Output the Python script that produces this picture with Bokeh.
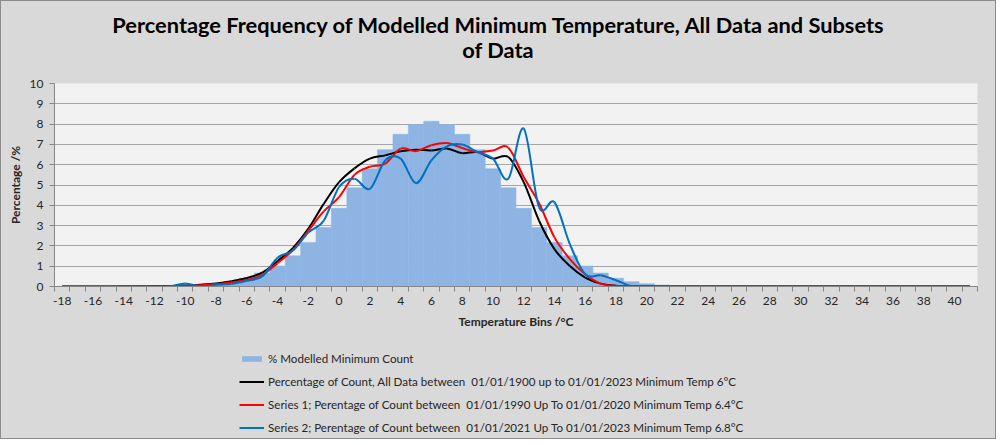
import numpy as np
from bokeh.plotting import figure
from bokeh.models import Range1d, FixedTicker, Legend, LegendItem, Div
from bokeh.layouts import column
from bokeh.embed import file_html
from bokeh.resources import INLINE

# ---------------- data ----------------
temperature_bins = list(range(-18, 42))  # -18 .. 41

modelled_pct = [0, 0, 0, 0, 0, 0.01, 0.01, 0.02, 0.04, 0.07,
                0.14, 0.24, 0.41, 0.66, 1.01, 1.51, 2.17, 2.91, 3.85, 4.86,
                5.8, 6.74, 7.5, 7.98, 8.14, 7.98, 7.5, 6.74, 5.8, 4.86,
                3.85, 2.91, 2.17, 1.51, 1.01, 0.66, 0.41, 0.24, 0.14, 0.07,
                0.04, 0.02, 0.01, 0.01, 0, 0, 0, 0, 0, 0,
                0, 0, 0, 0, 0, 0, 0, 0, 0, 0]

all_data_pct = [0, 0, 0, 0, 0.01, 0.01, 0.02, 0.03, 0.05, 0.09,
                0.15, 0.26, 0.42, 0.68, 1.26, 1.9, 2.85, 4.07, 5.14, 5.82,
                6.3, 6.46, 6.66, 6.74, 6.7, 6.8, 6.57, 6.62, 6.3, 6.38,
                5.14, 3.24, 1.84, 1.01, 0.44, 0.14, 0.04, 0.01, 0, 0,
                0, 0, 0, 0, 0, 0, 0, 0, 0, 0,
                0, 0, 0, 0, 0, 0, 0, 0, 0, 0]

series1_pct = [0, 0, 0, 0, 0.01, 0.01, 0.01, 0.02, 0.03, 0.06,
               0.12, 0.2, 0.32, 0.56, 1.15, 1.8, 2.75, 3.7, 4.4, 5.5,
               5.9, 6.05, 6.79, 6.67, 6.96, 7.07, 6.82, 6.62, 6.7, 6.84,
               5.39, 4.1, 2.42, 1.35, 0.6, 0.14, 0.03, 0.02, 0.01, 0.01,
               0.01, 0.01, 0.01, 0.01, 0.01, 0.01, 0.01, 0.01, 0.01, 0.01,
               0.01, 0.01, 0.01, 0.01, 0.01, 0.01, 0.01, 0.01, 0.01, 0.01]

series2_pct = [0, 0, 0, 0, 0, 0, 0, 0, 0.15, 0,
               0.08, 0.12, 0.28, 0.5, 1.42, 1.77, 2.66, 3.24, 4.9, 5.31,
               4.81, 6.21, 6.3, 5.09, 6.21, 6.9, 6.99, 6.62, 6.3, 5.31,
               7.78, 3.9, 4.15, 2.09, 0.6, 0.55, 0.31, 0.02, 0, 0,
               0, 0, 0, 0, 0, 0, 0, 0, 0, 0,
               0, 0, 0, 0, 0, 0, 0, 0, 0, 0]

x_tick_values = list(range(-18, 41, 2))
x_tick_labels = ["-18", "-16", "-14", "-12", "-10", "-8", "-6", "-4", "-2", "0",
                 "2", "4", "6", "8", "10", "12", "14", "16", "18", "20",
                 "22", "24", "26", "28", "30", "32", "34", "36", "38", "40"]
y_tick_values = list(range(0, 11))

title_line1 = "Percentage Frequency of Modelled Minimum Temperature, All Data and Subsets"
title_line2 = "of Data"
legend_labels = ["% Modelled Minimum Count",
                 "Percentage of Count, All Data between  01/01/1900 up to 01/01/2023 Minimum Temp 6°C",
                 "Series 1; Perentage of Count between  01/01/1990 Up To 01/01/2020 Minimum Temp 6.4°C",
                 "Series 2; Perentage of Count between  01/01/2021 Up To 01/01/2023 Minimum Temp 6.8°C"]

FONT = "Lato"
TEXT = "#262626"
GRID = "#a6a6a6"
BG = "#d9d9d9"
BAR_COLOR = "#8db4e2"
LINE_COLORS = ["black", "#ff0000", "#0070c0"]
W = 984


def smooth_segments(xs, ys):
    """Catmull-Rom style bezier control points (Excel 'smoothed line')."""
    n = len(xs)
    out = dict(x0=[], y0=[], x1=[], y1=[], cx0=[], cy0=[], cx1=[], cy1=[])
    for i in range(n - 1):
        xm = xs[i - 1] if i > 0 else xs[i]
        ym = ys[i - 1] if i > 0 else ys[i]
        xp = xs[i + 2] if i + 2 < n else xs[i + 1]
        yp = ys[i + 2] if i + 2 < n else ys[i + 1]
        out["x0"].append(xs[i]); out["y0"].append(ys[i])
        out["x1"].append(xs[i + 1]); out["y1"].append(ys[i + 1])
        out["cx0"].append(xs[i] + (xs[i + 1] - xm) / 6.0)
        out["cy0"].append(ys[i] + (ys[i + 1] - ym) / 6.0)
        out["cx1"].append(xs[i + 1] - (xp - xs[i]) / 6.0)
        out["cy1"].append(ys[i + 1] - (yp - ys[i]) / 6.0)
    return out


# ---------------- title strip ----------------
title_div = Div(
    text=('<div style="width:%dpx;text-align:center;font-family:Lato;font-weight:bold;'
          'font-size:21.8px;line-height:25px;padding-top:6px;color:black;">%s<br>%s</div>'
          % (W, title_line1, title_line2)),
    width=W, height=64, styles={"background-color": BG})

# ---------------- main chart ----------------
p = figure(width=W, height=263, output_backend="svg", toolbar_location=None,
           x_range=Range1d(-18.5, 41.5), y_range=Range1d(0, 10),
           min_border_left=53, min_border_right=8, min_border_top=8, min_border_bottom=52,
           background_fill_color="#f2f2f2", border_fill_color=BG)
p.outline_line_color = None
p.title = None

p.xgrid.visible = False
p.ygrid.ticker = FixedTicker(ticks=y_tick_values)
p.ygrid.grid_line_color = GRID
p.ygrid.grid_line_width = 1.2

p.vbar(x=temperature_bins, top=modelled_pct, width=1.0,
       fill_color=BAR_COLOR, line_color=BAR_COLOR, line_width=0.5)

for ys, col in zip([all_data_pct, series1_pct, series2_pct], LINE_COLORS):
    seg = smooth_segments(temperature_bins, ys)
    p.bezier(source=seg, x0="x0", y0="y0", x1="x1", y1="y1",
             cx0="cx0", cy0="cy0", cx1="cx1", cy1="cy1",
             line_color=col, line_width=2)

xa = p.xaxis[0]
xa.ticker = FixedTicker(ticks=x_tick_values,
                        minor_ticks=[t - 0.5 for t in temperature_bins] + [temperature_bins[-1] + 0.5])
xa.major_label_overrides = {v: s for v, s in zip(x_tick_values, x_tick_labels)}
xa.major_tick_line_color = None
xa.major_tick_out = 0
xa.major_tick_in = 0
xa.minor_tick_line_color = "#868686"
xa.minor_tick_out = 5
xa.minor_tick_in = 0
xa.axis_line_color = "#868686"
xa.major_label_standoff = 5
xa.major_label_text_font = FONT
xa.major_label_text_font_size = "12px"
xa.major_label_text_color = TEXT
xa.axis_label = "Temperature Bins /°C"
xa.axis_label_text_font = FONT
xa.axis_label_text_font_size = "12px"
xa.axis_label_text_font_style = "bold"
xa.axis_label_text_color = TEXT
xa.axis_label_standoff = 6

ya = p.yaxis[0]
ya.ticker = FixedTicker(ticks=y_tick_values)
ya.minor_tick_line_color = None
ya.major_tick_line_color = "#868686"
ya.major_tick_out = 5
ya.major_tick_in = 0
ya.axis_line_color = "#868686"
ya.major_label_standoff = 6
ya.major_label_text_font = FONT
ya.major_label_text_font_size = "12px"
ya.major_label_text_color = TEXT
ya.axis_label = "Percentage /%"
ya.axis_label_text_font = FONT
ya.axis_label_text_font_size = "12px"
ya.axis_label_text_font_style = "bold"
ya.axis_label_text_color = TEXT
ya.axis_label_standoff = 4

# ---------------- legend strip ----------------
lg = figure(width=W, height=100, output_backend="svg", toolbar_location=None,
            x_range=Range1d(0, 1), y_range=Range1d(0, 1),
            min_border_left=53, min_border_right=8, min_border_top=0, min_border_bottom=0,
            background_fill_alpha=0, border_fill_color=BG)
lg.outline_line_color = None
lg.axis.visible = False
lg.grid.visible = False
hidden = np.array([np.nan])  # legend keys only: nothing is drawn in the strip itself
key_bar = lg.vbar(x=hidden, top=hidden, width=1.0, fill_color=BAR_COLOR, line_color=None)
key_lines = [lg.line(x=hidden, y=hidden, line_color=c, line_width=2) for c in LINE_COLORS]
items = [LegendItem(label=legend_labels[0], renderers=[key_bar])]
for lab, r in zip(legend_labels[1:], key_lines):
    items.append(LegendItem(label=lab, renderers=[r]))
legend = Legend(items=items, location=(185, 3), orientation="vertical",
                background_fill_alpha=0, border_line_color=None,
                glyph_width=25, glyph_height=7, label_height=15, spacing=8,
                padding=4, margin=0, label_standoff=4,
                label_text_font=FONT, label_text_font_size="11.6px", label_text_color=TEXT)
lg.add_layout(legend, "center")

layout = column(title_div, p, lg, spacing=0)
layout.styles = {"border": "1px solid #8c8c8c", "background-color": BG}

open("out.html", "w").write(file_html(layout, INLINE))
